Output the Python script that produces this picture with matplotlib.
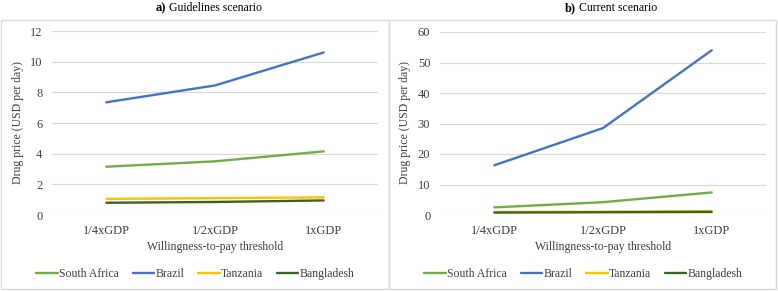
#!/usr/bin/env python3
"""Drug price vs willingness-to-pay threshold, two scenarios."""

import matplotlib.pyplot as plt
from matplotlib.patches import Rectangle

THRESHOLDS = ["1/4xGDP", "1/2xGDP", "1xGDP"]
COUNTRIES = ["South Africa", "Brazil", "Tanzania", "Bangladesh"]
COLORS = ["#70AD47", "#4472C4", "#FFC000", "#3B6322"]

GUIDELINES = {
    "South Africa": [3.15, 3.5, 4.15],
    "Brazil": [7.35, 8.45, 10.6],
    "Tanzania": [1.05, 1.1, 1.15],
    "Bangladesh": [0.8, 0.85, 0.95],
}
CURRENT = {
    "South Africa": [2.5, 4.2, 7.4],
    "Brazil": [16.3, 28.5, 54.0],
    "Tanzania": [1.0, 1.1, 1.3],
    "Bangladesh": [0.8, 0.9, 1.0],
}

W, H = 778, 291
plt.rcParams["font.family"] = ["Liberation Serif", "DejaVu Serif"]


def px(x0, y0, x1, y1):
    # pixel box (top-left origin) -> figure fraction rect
    return [x0 / W, 1 - y1 / H, (x1 - x0) / W, (y1 - y0) / H]


def panel(fig, rect, data, ymax, step, box, tag, title, title_x, ylab_x):
    ax = fig.add_axes(px(*rect))
    x = range(len(THRESHOLDS))
    for name, color in zip(COUNTRIES, COLORS):
        ax.plot(x, data[name], color=color, linewidth=1.7, label=name,
                solid_capstyle="round")
    ax.set_xlim(-0.5, len(THRESHOLDS) - 0.5)
    ax.set_ylim(0, ymax)
    ax.set_yticks(range(0, ymax + 1, step))
    ax.set_xticks(list(x))
    ax.set_xticklabels(THRESHOLDS)
    ax.tick_params(length=0, labelsize=9, colors="#404040", pad=7)
    ax.yaxis.grid(True, color="#D9D9D9", linewidth=0.8)
    ax.set_axisbelow(True)
    for s in ax.spines.values():
        s.set_visible(False)
    ax.set_xlabel("Willingness-to-pay threshold", fontsize=8.5,
                  color="#404040", labelpad=3)
    fig.text(ylab_x / W, 1 - 123 / H, "Drug price (USD per day)",
             rotation=90, ha="center", va="center", fontsize=8.5,
             color="#404040")
    ax.legend(loc="center", bbox_to_anchor=(0.44, (215 - 274) / (215 - rect[1])),
              ncol=4, frameon=False, fontsize=8.5, handlelength=1.8,
              handletextpad=0.1, columnspacing=1.2, labelcolor="#404040")
    fig.patches.append(Rectangle((box[0] / W, 1 - box[3] / H),
                                 (box[2] - box[0]) / W, (box[3] - box[1]) / H,
                                 transform=fig.transFigure, fill=False,
                                 edgecolor="#D9D9D9", linewidth=1))
    fig.text(title_x / W, 1 - 8 / H, tag, ha="right", va="center",
             fontsize=9, weight="bold")
    fig.text((title_x + 3) / W, 1 - 8 / H, title, ha="left", va="center",
             fontsize=8.5)


def main() -> None:
    fig = plt.figure(figsize=(W / 100, H / 100), dpi=100)
    panel(fig, (52, 31, 378, 215), GUIDELINES, 12, 2,
          (1, 20, 389, 289), "a)", "Guidelines scenario", 166, 18)
    panel(fig, (440, 32, 766, 215), CURRENT, 60, 10,
          (389, 20, 776, 289), "b)", "Current scenario", 576, 405)
    fig.savefig("out.png", dpi=100)


if __name__ == "__main__":
    main()
